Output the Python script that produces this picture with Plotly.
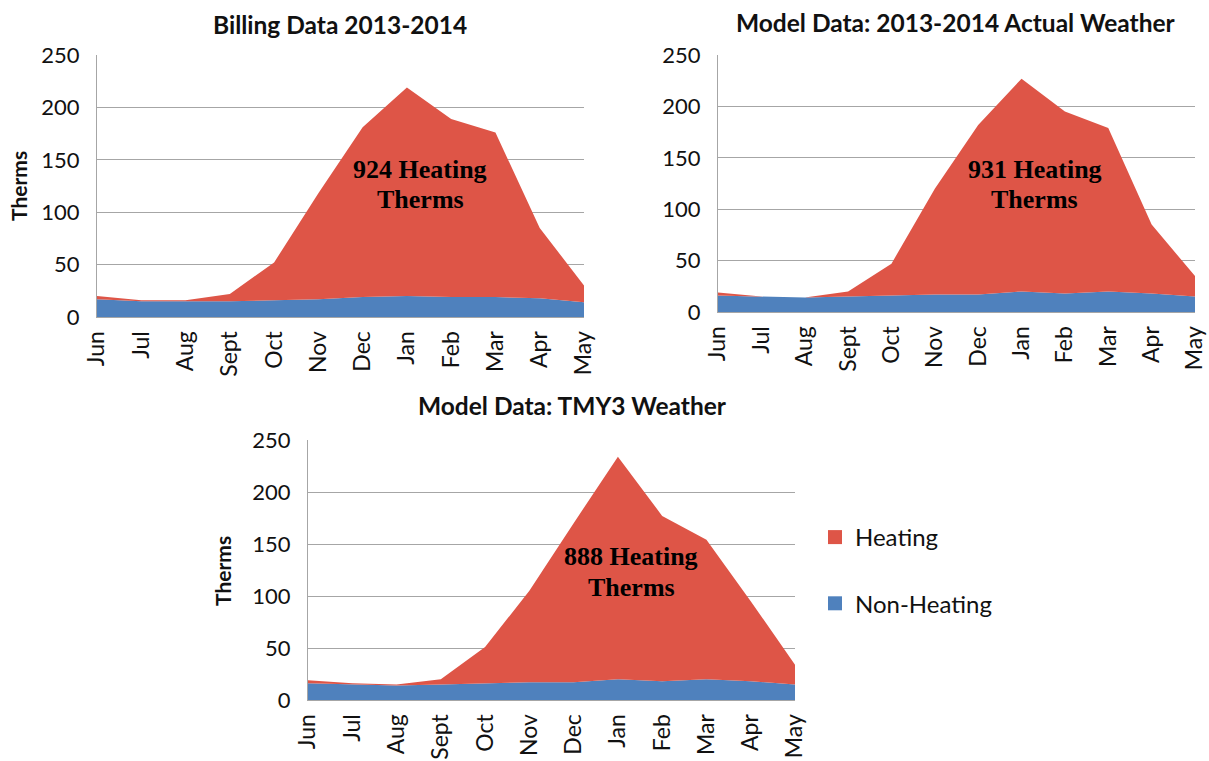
import plotly.graph_objects as go

months = ["Jun", "Jul", "Aug", "Sept", "Oct", "Nov", "Dec", "Jan", "Feb", "Mar", "Apr", "May"]

# Billing Data 2013-2014
billing_nonheat = [17, 15, 15, 15, 16, 17, 19, 20, 19, 19, 18, 14]
billing_heat = [3, 1, 1, 7, 36, 101, 162, 199, 170, 157, 67, 16]

# Model Data: 2013-2014 Actual Weather
actual_nonheat = [16, 15, 14, 15, 16, 17, 17, 20, 18, 20, 18, 15]
actual_heat = [3, 0, 0, 5, 31, 103, 165, 207, 177, 159, 67, 20]

# Model Data: TMY3 Weather
tmy_nonheat = [16, 15, 14, 15, 16, 17, 17, 20, 18, 20, 18, 15]
tmy_heat = [3, 1, 1, 5, 35, 88, 153, 214, 159, 134, 77, 19]

titles = ["Billing Data 2013-2014", "Model Data: 2013-2014 Actual Weather", "Model Data: TMY3 Weather"]
heating_totals = [924, 931, 888]

RED = "#DE5547"
BLUE = "#4F81BD"
GRID = "#A6A6A6"
FONT = "Lato"

W, H = 1209, 761

def px(xp):
    return xp / W

def py(yp):
    return 1 - yp / H

panels = [
    dict(nonheat=billing_nonheat, heat=billing_heat, x0=97, x1=584, y0=55, y1=317, ty=25, tx=340),
    dict(nonheat=actual_nonheat, heat=actual_heat, x0=718, x1=1195, y0=55, y1=312, ty=23, tx=956),
    dict(nonheat=tmy_nonheat, heat=tmy_heat, x0=308, x1=795, y0=440, y1=700, ty=405, tx=572),
]

fig = go.Figure()
layout = dict(
    width=W, height=H,
    margin=dict(l=0, r=0, t=0, b=0, pad=0, autoexpand=False),
    paper_bgcolor="white", plot_bgcolor="white",
    font=dict(family=FONT, color="#222222"),
    showlegend=True,
    annotations=[],
)

for i, p in enumerate(panels):
    sfx = "" if i == 0 else str(i + 1)
    xa, ya = "x" + sfx, "y" + sfx
    fig.add_trace(go.Scatter(
        x=months, y=p["nonheat"], xaxis=xa, yaxis=ya, stackgroup="s%d" % i,
        mode="lines", line=dict(width=0, color=BLUE), fillcolor=BLUE,
        name="Non-Heating", showlegend=False, hoverinfo="x+y"))
    fig.add_trace(go.Scatter(
        x=months, y=p["heat"], xaxis=xa, yaxis=ya, stackgroup="s%d" % i,
        mode="lines", line=dict(width=0, color=RED), fillcolor=RED,
        name="Heating", showlegend=False, hoverinfo="x+y"))
    layout["xaxis" + sfx] = dict(
        domain=[px(p["x0"]), px(p["x1"])], anchor=ya,
        type="category", categoryarray=months, range=[0, 11],
        tickangle=-90, tickfont=dict(size=23, family=FONT, color="#111111"),
        showgrid=False, showline=True, linecolor=GRID, linewidth=1,
        ticks="", ticklabelstandoff=4, fixedrange=True, automargin=False)
    layout["yaxis" + sfx] = dict(
        domain=[py(p["y1"]), py(p["y0"])], anchor=xa,
        range=[0, 250], dtick=50, tickfont=dict(size=22, family=FONT, color="#111111"),
        showgrid=True, gridcolor=GRID, gridwidth=1, zeroline=False,
        showline=True, linecolor=GRID, linewidth=1,
        ticks="", ticklabelstandoff=12, fixedrange=True, automargin=False)
    # chart title
    layout["annotations"].append(dict(
        text="<b>%s</b>" % titles[i], xref="paper", yref="paper",
        x=px(p["tx"]), y=py(p["ty"]), xanchor="center", yanchor="middle",
        showarrow=False, font=dict(size=24.5, family=FONT, color="#111111")))
    # heating total text (two lines)
    ppu = (p["y1"] - p["y0"]) / 250.0
    layout["annotations"].append(dict(
        text="<b>%d Heating</b>" % heating_totals[i], xref=xa, yref=ya,
        x=7.3, y=(p["y1"] - (p["y0"] + 114 if i < 2 else p["y0"] + 116)) / ppu,
        xanchor="center", yanchor="middle", showarrow=False,
        font=dict(size=26, family="Liberation Serif", color="black")))
    layout["annotations"].append(dict(
        text="<b>Therms</b>", xref=xa, yref=ya,
        x=7.3, y=(p["y1"] - (p["y0"] + 144 if i < 2 else p["y0"] + 147)) / ppu,
        xanchor="center", yanchor="middle", showarrow=False,
        font=dict(size=26, family="Liberation Serif", color="black")))

# y-axis titles
for xp, yp in [(18, 186), (222, 571)]:
    layout["annotations"].append(dict(
        text="<b>Therms</b>", xref="paper", yref="paper", x=px(xp), y=py(yp),
        xanchor="center", yanchor="middle", textangle=-90, showarrow=False,
        font=dict(size=21, family=FONT, color="#111111")))

# legend entries (square markers)
fig.add_trace(go.Scatter(x=[None], y=[None], xaxis="x3", yaxis="y3", mode="markers",
                         marker=dict(symbol="square", size=14, color=RED),
                         name="Heating", legendgroup="h", legendrank=1, showlegend=True))
fig.add_trace(go.Scatter(x=[None], y=[None], xaxis="x3", yaxis="y3", mode="markers",
                         marker=dict(symbol="square", size=14, color=BLUE),
                         name="Non-Heating", legendgroup="n", legendrank=2, showlegend=True))

layout["legend"] = dict(
    x=px(815), y=py(515), xanchor="left", yanchor="top",
    font=dict(size=24, family=FONT, color="#111111"),
    tracegroupgap=32, itemwidth=30, bgcolor="rgba(0,0,0,0)")

fig.update_layout(**layout)
fig.write_html("out.html", config={"displayModeBar": False},
               post_script="document.body.style.margin='0';document.body.style.overflow='hidden';")
